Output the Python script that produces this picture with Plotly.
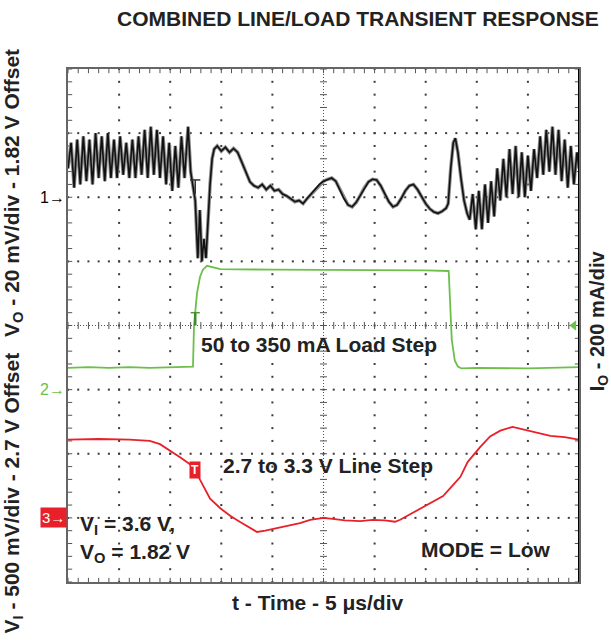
import numpy as np
import plotly.graph_objects as go

# ---------------- data (time in microseconds, amplitude in screen divisions) -------------
# Channel 1: V_O (20 mV/div, 1.82 V offset), reference marker at division 6
vo_t = [0.0, 0.3, 0.6, 0.9, 1.2, 1.5, 1.8, 2.1, 2.4, 2.7, 3.0, 3.3, 3.6, 3.9, 4.2, 4.5, 4.8,
        5.1, 5.4, 5.7, 6.0, 6.3, 6.6, 6.9, 7.2, 7.5, 7.8, 8.1, 8.4, 8.7, 9.0, 9.3, 9.6, 9.9,
        10.2, 10.5, 10.8, 11.1, 11.4, 11.75, 12.0, 12.2, 12.45, 12.7, 12.9, 13.1, 13.3, 13.5,
        13.7, 13.9, 14.1, 14.3, 14.6, 15.0, 15.4, 15.8, 16.2, 16.6, 17.0, 17.4, 17.8, 18.2,
        18.6, 19.0, 19.4, 19.8, 20.2, 20.6, 21.0, 21.4, 21.8, 22.2, 22.6, 23.0, 23.4, 23.8,
        24.2, 24.6, 25.0, 25.4, 25.8, 26.2, 26.6, 27.0, 27.4, 27.8, 28.2, 28.6, 29.0, 29.4,
        29.8, 30.2, 30.6, 31.0, 31.4, 31.8, 32.2, 32.6, 33.0, 33.4, 33.8, 34.2, 34.6, 35.0,
        35.4, 35.8, 36.2, 36.6, 37.0, 37.2, 37.45, 37.7, 37.9, 38.15, 38.45, 38.75, 39.05,
        39.3, 39.6, 39.9, 40.2, 40.5, 40.8, 41.1, 41.4, 41.7, 42.0, 42.3, 42.6, 42.9, 43.2,
        43.5, 43.8, 44.1, 44.4, 44.7, 45.0, 45.3, 45.6, 45.9, 46.2, 46.5, 46.8, 47.1, 47.4,
        47.7, 48.0, 48.3, 48.6, 48.9, 49.2, 49.5, 49.8, 50.0]
vo_div = [6.45, 6.85, 6.15, 6.9, 6.2, 6.95, 6.25, 6.9, 6.2, 7.0, 6.3, 6.95, 6.25, 7.0, 6.3, 6.9, 6.3,
          6.95, 6.35, 6.85, 6.3, 6.9, 6.3, 6.95, 6.35, 7.05, 6.3, 7.1, 6.35, 7.05, 6.3, 6.95, 6.2, 6.85,
          6.1, 6.8, 6.15, 6.95, 6.3, 7.1, 6.4, 6.2, 5.95, 5.05, 5.8, 5.0, 5.35, 5.05,
          5.7, 6.2, 6.6, 6.75, 6.8, 6.72, 6.78, 6.7, 6.76, 6.7, 6.55, 6.38, 6.24, 6.18,
          6.15, 6.2, 6.12, 6.18, 6.1, 6.12, 6.05, 6.02, 5.97, 5.93, 5.95, 5.9, 5.98, 6.05,
          6.12, 6.2, 6.25, 6.28, 6.3, 6.25, 6.12, 5.98, 5.88, 5.85, 5.92, 6.03, 6.15, 6.24,
          6.28, 6.27, 6.18, 6.05, 5.93, 5.85, 5.88, 5.98, 6.1, 6.18, 6.2, 6.12, 6.0, 5.9,
          5.82, 5.77, 5.75, 5.78, 5.83, 5.9, 6.45, 6.85, 6.92, 6.7, 6.3, 5.95, 5.75,
          5.65, 6.05, 5.5, 6.1, 5.5, 6.2, 5.6, 6.25, 5.7, 6.45, 5.95, 6.6, 6.0, 6.75,
          6.05, 6.8, 6.0, 6.7, 6.0, 6.65, 6.1, 6.75, 6.3, 6.95, 6.35, 7.05, 6.4, 7.1,
          6.35, 7.05, 6.25, 6.9, 6.15, 6.8, 6.2, 6.7, 6.45]

# Channel 2: I_O (200 mA/div), reference marker at division 3
io_t = [0, 2, 4, 6, 8, 10, 12.23, 12.33, 12.62, 12.92, 13.2, 13.6, 14.2, 14.9, 20, 25, 30, 35,
        37.25, 37.35, 37.55, 37.85, 38.15, 38.5, 40, 45, 50]
io_div = [3.34, 3.35, 3.34, 3.35, 3.34, 3.35, 3.36, 4.0, 4.5, 4.76, 4.87, 4.93, 4.91, 4.88, 4.87, 4.87,
          4.87, 4.86, 4.85, 4.5, 3.78, 3.45, 3.36, 3.33, 3.34, 3.33, 3.35]

# Channel 3: V_I (500 mV/div, 2.7 V offset), reference marker at division 1
vi_t = [0, 3, 6, 8, 9, 10, 11, 11.9, 12.4, 12.9, 13.4, 13.9, 14.9, 15.9, 16.8, 17.8, 18.5, 19.3,
        20.4, 21.7, 22.7, 23.7, 25.0, 26.1, 27.1, 28.6, 29.8, 31.0, 32.0, 32.5, 33.5, 34.4, 35.4,
        36.7, 37.6, 38.4, 39.1, 40.3, 41.3, 42.3, 43.5, 45.2, 47.2, 48.6, 50]
vi_div = [2.22, 2.23, 2.22, 2.2, 2.15, 2.05, 1.94, 1.84, 1.76, 1.6, 1.44, 1.3, 1.15, 1.03, 0.94, 0.84,
          0.78, 0.8, 0.84, 0.89, 0.92, 0.97, 1.0, 0.98, 0.96, 0.95, 0.97, 0.96, 0.94, 0.97, 1.06,
          1.14, 1.23, 1.34, 1.5, 1.64, 1.87, 2.1, 2.27, 2.36, 2.42, 2.36, 2.28, 2.26, 2.22]

channel_refs = {"1": 6, "2": 3, "3": 1}
trigger_time = 12.45
trigger_level_div = 4.0

# ---------------- styling ----------------
FONT = "Liberation Sans, Arial, Helvetica, sans-serif"
BLACK = "#111111"
GREEN = "#6cc04a"
RED = "#e8202a"
GRID = "#555555"

fig = go.Figure()

# graticule: dotted division lines (dots every 1/5 division) and border / centre ticks
gx, gy = [], []
for xv in range(5, 50, 5):
    if xv == 25:
        continue
    for yv in np.arange(0, 8.001, 0.2):
        gx.append(xv); gy.append(yv)
for yv in range(1, 8):
    if yv == 4:
        continue
    for xv in np.arange(0, 50.01, 1.0):
        gx.append(xv); gy.append(yv)
fig.add_trace(go.Scatter(x=gx, y=gy, mode="markers",
                         marker=dict(symbol="square", size=2, color="#3a3a3a", line=dict(width=0)),
                         hoverinfo="skip", showlegend=False))

xt = np.arange(0, 50.01, 1.0)
yt = np.arange(0, 8.001, 0.2)
tick_marker = dict(color=GRID, size=6, line=dict(color=GRID, width=1))
fig.add_trace(go.Scatter(x=np.concatenate([xt, xt]), y=[0] * len(xt) + [8] * len(xt), mode="markers",
                         marker=dict(symbol="line-ns", **tick_marker), hoverinfo="skip", showlegend=False))
fig.add_trace(go.Scatter(x=[0] * len(yt) + [50] * len(yt), y=np.concatenate([yt, yt]), mode="markers",
                         marker=dict(symbol="line-ew", **tick_marker), hoverinfo="skip", showlegend=False))
fig.add_trace(go.Scatter(x=xt, y=[4] * len(xt), mode="markers",
                         marker=dict(symbol="line-ns", color=GRID, size=5, line=dict(color=GRID, width=1)),
                         hoverinfo="skip", showlegend=False))
fig.add_trace(go.Scatter(x=[25] * len(yt), y=yt, mode="markers",
                         marker=dict(symbol="line-ew", color=GRID, size=5, line=dict(color=GRID, width=1)),
                         hoverinfo="skip", showlegend=False))

# traces
fig.add_trace(go.Scatter(x=vi_t, y=vi_div, mode="lines", line=dict(color=RED, width=1.8),
                         showlegend=False, hoverinfo="skip"))
fig.add_trace(go.Scatter(x=io_t, y=io_div, mode="lines", line=dict(color=GREEN, width=1.8),
                         showlegend=False, hoverinfo="skip"))
# channel 1: grey persistence envelope under a black trace
fig.add_trace(go.Scatter(x=vo_t, y=vo_div, mode="lines", line=dict(color="#8c8c8c", width=3.5),
                         showlegend=False, hoverinfo="skip"))
fig.add_trace(go.Scatter(x=vo_t, y=vo_div, mode="lines", line=dict(color=BLACK, width=1.6),
                         showlegend=False, hoverinfo="skip"))

# trigger level arrow on the right
fig.add_trace(go.Scatter(x=[49.5], y=[trigger_level_div], mode="markers",
                         marker=dict(symbol="triangle-left", size=9, color=GREEN),
                         cliponaxis=False, showlegend=False, hoverinfo="skip"))

shapes = [
    dict(type="line", xref="x", yref="y", x0=0, x1=50, y0=4, y1=4,
         line=dict(color=GRID, width=1, dash="1px,2px"), layer="below"),
    dict(type="line", xref="x", yref="y", x0=25, x1=25, y0=0, y1=8,
         line=dict(color=GRID, width=1, dash="1px,2px"), layer="below"),
    dict(type="line", xref="x", yref="y", x0=50, x1=50, y0=0, y1=8,
         line=dict(color="#000", width=2)),
    # black trigger "T"
    dict(type="line", xref="x", yref="y", x0=trigger_time - 0.5, x1=trigger_time + 0.5, y0=6.27, y1=6.27,
         line=dict(color="#333", width=1.5)),
    dict(type="line", xref="x", yref="y", x0=trigger_time, x1=trigger_time, y0=6.27, y1=6.05,
         line=dict(color="#333", width=1.5)),
    # green trigger "T"
    dict(type="line", xref="x", yref="y", x0=trigger_time - 0.45, x1=trigger_time + 0.45, y0=4.2, y1=4.2,
         line=dict(color="#4d9a35", width=1.5)),
    dict(type="line", xref="x", yref="y", x0=trigger_time, x1=trigger_time, y0=4.2, y1=4.0,
         line=dict(color="#3f8a2a", width=2.5)),
]

ann = []
# channel reference markers
ann.append(dict(xref="paper", yref="y", x=0, y=channel_refs["1"], text="1→", showarrow=False,
                xanchor="right", xshift=-1, font=dict(family=FONT, size=16, color="#000")))
ann.append(dict(xref="paper", yref="y", x=0, y=channel_refs["2"], text="2→", showarrow=False,
                xanchor="right", xshift=-1, font=dict(family=FONT, size=16, color=GREEN)))
ann.append(dict(xref="paper", yref="y", x=0, y=channel_refs["3"], text="3→", showarrow=False,
                xanchor="right", xshift=-1, bgcolor=RED, borderpad=1,
                font=dict(family=FONT, size=15, color="#fff")))
# red trigger box
ann.append(dict(xref="x", yref="y", x=trigger_time, y=float(np.interp(trigger_time, vi_t, vi_div)),
                text="<b>T</b>", showarrow=False, bgcolor=RED, borderpad=1,
                font=dict(family=FONT, size=12, color="#fff")))

bold = dict(family=FONT, size=21, color="#222")
ann += [
    dict(xref="paper", yref="paper", x=0.5675, y=1.0994, text="<b>COMBINED LINE/LOAD TRANSIENT RESPONSE</b>",
         showarrow=False, xanchor="center", yanchor="middle", font=bold),
    dict(xref="paper", yref="paper", x=0.489, y=-0.039, text="<b>t - Time - 5 μs/div</b>",
         showarrow=False, xanchor="center", yanchor="middle", font=bold),
    dict(xref="paper", yref="paper", x=-0.108, y=0.758,
         text="<b>V<sub>O</sub> - 20 mV/div - 1.82 V Offset</b>", textangle=-90,
         showarrow=False, xanchor="center", yanchor="middle", font=bold),
    dict(xref="paper", yref="paper", x=-0.108, y=0.174,
         text="<b>V<sub>I</sub> - 500 mV/div - 2.7 V Offset</b>", textangle=-90,
         showarrow=False, xanchor="center", yanchor="middle", font=bold),
    dict(xref="paper", yref="paper", x=1.037, y=0.51,
         text="<b>I<sub>O</sub> - 200 mA/div</b>", textangle=-90,
         showarrow=False, xanchor="center", yanchor="middle", font=dict(family=FONT, size=20, color="#222")),
    dict(xref="x", yref="y", x=24.56, y=3.70, text="<b>50 to 350 mA Load Step</b>",
         showarrow=False, xanchor="center", yanchor="middle", font=bold),
    dict(xref="x", yref="y", x=25.4, y=1.82, text="<b>2.7 to 3.3 V Line Step</b>",
         showarrow=False, xanchor="center", yanchor="middle", font=bold),
    dict(xref="x", yref="y", x=0.98, y=0.89, text="<b>V<sub>I</sub> = 3.6 V,</b>",
         showarrow=False, xanchor="left", yanchor="middle", font=bold),
    dict(xref="x", yref="y", x=0.98, y=0.45, text="<b>V<sub>O</sub> = 1.82 V</b>",
         showarrow=False, xanchor="left", yanchor="middle", font=bold),
    dict(xref="x", yref="y", x=40.9, y=0.5, text="<b>MODE = Low</b>",
         showarrow=False, xanchor="center", yanchor="middle", font=bold),
]

fig.update_layout(
    width=611, height=642,
    margin=dict(l=68, r=32, t=69, b=60),
    paper_bgcolor="white", plot_bgcolor="white",
    shapes=shapes, annotations=ann,
    xaxis=dict(range=[0, 50], showgrid=False, showticklabels=False, ticks="", zeroline=False,
               showline=True, linecolor="#666", linewidth=2, mirror=True, fixedrange=True),
    yaxis=dict(range=[0, 8], showgrid=False, showticklabels=False, ticks="", zeroline=False,
               showline=True, linecolor="#666", linewidth=2, mirror=True, fixedrange=True),
    showlegend=False,
)

fig.write_html("out.html", config={"displayModeBar": False, "staticPlot": True},
               post_script="document.body.style.margin='0';document.body.style.overflow='hidden';")
